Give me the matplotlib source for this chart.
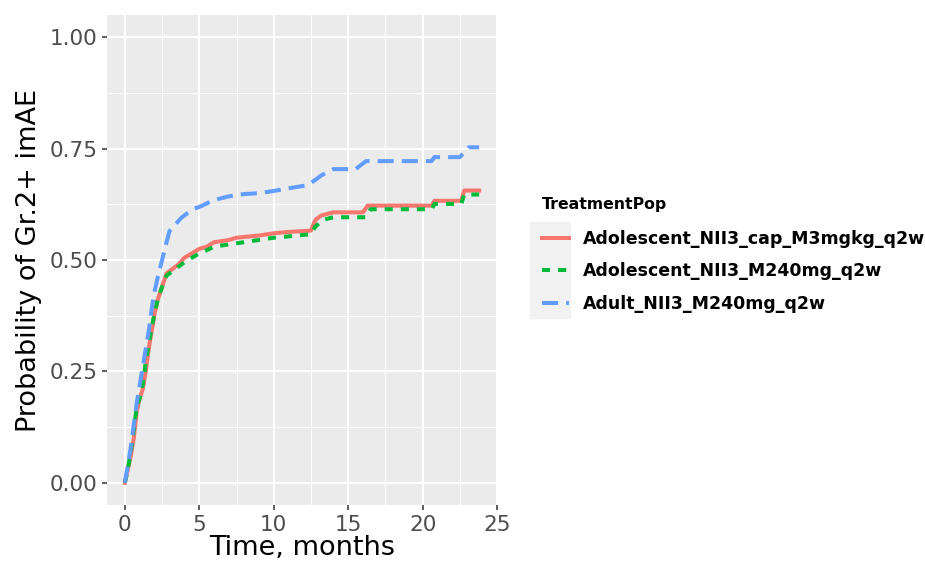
import numpy as np
import matplotlib.pyplot as plt
from matplotlib.patches import Rectangle

# cumulative incidence (time in months)
t_cap = [0, 0.2, 0.4, 0.6, 0.8, 1.0, 1.2, 1.4, 1.6, 1.8, 2.0, 2.2, 2.5, 2.8,
         3.2, 3.6, 4.0, 4.5, 5.0, 5.5, 6.0, 7.0, 7.5, 9.0, 10.0, 11.0, 12.5,
         12.8, 13.2, 14.0, 16.0, 16.3, 20.6, 20.8, 22.6, 22.8, 23.8]
p_cap = [0, 0.03, 0.06, 0.10, 0.16, 0.19, 0.21, 0.25, 0.30, 0.34, 0.38, 0.41,
         0.44, 0.47, 0.48, 0.49, 0.505, 0.515, 0.525, 0.53, 0.54, 0.545, 0.55,
         0.555, 0.56, 0.563, 0.566, 0.59, 0.60, 0.607, 0.607, 0.622, 0.622,
         0.633, 0.633, 0.656, 0.656]

t_ado = [0, 0.2, 0.4, 0.6, 0.8, 1.0, 1.2, 1.4, 1.6, 1.8, 2.0, 2.2, 2.5, 2.8,
         3.2, 3.6, 4.0, 4.5, 5.0, 5.5, 6.0, 7.0, 8.0, 9.0, 10.0, 11.0, 12.5,
         12.8, 13.3, 14.0, 16.2, 16.5, 20.6, 20.8, 22.6, 22.8, 23.8]
p_ado = [0, 0.03, 0.07, 0.12, 0.17, 0.19, 0.22, 0.27, 0.31, 0.35, 0.38, 0.41,
         0.44, 0.465, 0.475, 0.485, 0.495, 0.505, 0.515, 0.522, 0.53, 0.535,
         0.54, 0.545, 0.55, 0.553, 0.558, 0.575, 0.59, 0.596, 0.596, 0.614,
         0.614, 0.626, 0.626, 0.647, 0.647]

t_adult = [0, 0.2, 0.4, 0.6, 0.8, 1.0, 1.2, 1.4, 1.6, 1.8, 2.0, 2.2, 2.5, 2.8,
           3.0, 3.4, 3.8, 4.2, 4.6, 5.2, 5.8, 6.4, 7.0, 8.0, 9.0, 10.0, 11.0,
           12.3, 12.8, 13.2, 14.0, 15.5, 16.2, 20.6, 20.8, 22.5, 22.9, 23.1,
           23.8]
p_adult = [0, 0.04, 0.08, 0.13, 0.18, 0.22, 0.26, 0.30, 0.34, 0.39, 0.43, 0.46,
           0.50, 0.54, 0.565, 0.58, 0.595, 0.605, 0.614, 0.622, 0.632, 0.638,
           0.643, 0.648, 0.65, 0.655, 0.661, 0.668, 0.68, 0.69, 0.704, 0.704,
           0.722, 0.722, 0.731, 0.731, 0.745, 0.753, 0.753]

labels = ['Adolescent_NII3_cap_M3mgkg_q2w',
          'Adolescent_NII3_M240mg_q2w',
          'Adult_NII3_M240mg_q2w']
colors = ['#F8766D', '#00BA38', '#619CFF']

W, H = 925, 562
fig = plt.figure(figsize=(W / 100, H / 100), dpi=100)
ax = fig.add_axes([107 / W, 1 - 505 / H, 390 / W, 490 / H])

ax.set_facecolor('#EBEBEB')
for s in ax.spines.values():
    s.set_visible(False)

ax.set_xlim(-1.2, 25.0)
ax.set_ylim(-0.05, 1.05)
ax.set_xticks([0, 5, 10, 15, 20, 25])
ax.set_yticks([0, 0.25, 0.5, 0.75, 1.0])
ax.set_yticklabels(['0.00', '0.25', '0.50', '0.75', '1.00'])
ax.set_xticks(np.arange(2.5, 25, 5), minor=True)
ax.set_yticks([0.125, 0.375, 0.625, 0.875], minor=True)
ax.grid(which='major', color='white', lw=1.5)
ax.grid(which='minor', color='white', lw=0.7)
ax.set_axisbelow(True)
ax.tick_params(which='major', length=3.5, width=1.1, color='#333333',
               labelcolor='#4D4D4D', labelsize=15.5, pad=3.5)
ax.tick_params(which='minor', length=0)

lw = 2.9
ax.plot(t_cap, p_cap, color=colors[0], lw=lw, label=labels[0])
ax.plot(t_ado, p_ado, color=colors[1], lw=lw, dashes=(2, 2), label=labels[1])
ax.plot(t_adult, p_adult, color=colors[2], lw=lw, dashes=(4, 2),
        label=labels[2])

ax.set_xlabel('Time, months', fontsize=19.5, labelpad=0)
ax.set_ylabel('Probability of Gr.2+ imAE', fontsize=19.5, labelpad=5)

# legend key background, ggplot style
fig.patches.append(Rectangle((530 / W, 1 - 318 / H), 40 / W, 96 / H,
                             transform=fig.transFigure, color='#F2F2F2',
                             zorder=0))
leg = fig.legend(loc='upper left', bbox_to_anchor=(526 / W, 1 - 181 / H),
                 frameon=False, handlelength=1.6,
                 handletextpad=0.75, labelspacing=0.85,
                 prop={'weight': 'bold', 'size': 12.5},
                 title='TreatmentPop', alignment='left',
                 title_fontproperties={'weight': 'bold', 'size': 11.3})
leg._legend_box.sep = 13

fig.savefig('out.png', dpi=100)
